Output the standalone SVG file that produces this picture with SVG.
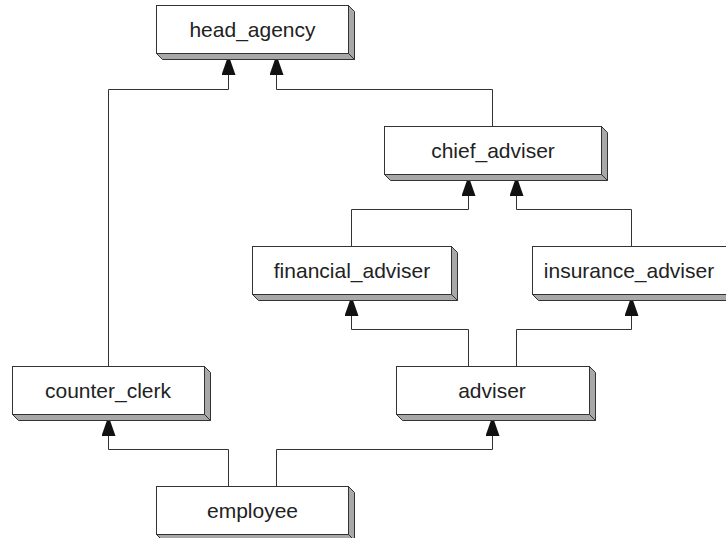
<svg xmlns="http://www.w3.org/2000/svg" width="726" height="538" viewBox="0 0 726 538">
<style>
.front{fill:#ffffff;stroke:#333333;stroke-width:1}
.side{fill:#a8a8a8;stroke:#333333;stroke-width:1;stroke-linejoin:miter}
.lbl{font-family:"Liberation Sans",Arial,sans-serif;font-size:21px;fill:#222222;text-anchor:middle;dominant-baseline:central}
.conn{fill:none;stroke:#333333;stroke-width:1}
</style>
<defs>
<marker id="arr" viewBox="0 0 20 14" refX="20" refY="7" markerWidth="20" markerHeight="14" markerUnits="userSpaceOnUse" orient="auto">
<path d="M0,0 L20,7 L0,14 z" fill="#111111"/>
</marker>
</defs>
<rect width="726" height="538" fill="#ffffff"/>

<g id="connectors">
<path class="conn" d="M108.5,366.5 V89.5 H228.5 V55" marker-end="url(#arr)"/>
<path class="conn" d="M492.5,126.5 V89.5 H276.5 V55" marker-end="url(#arr)"/>
<path class="conn" d="M351.5,246.5 V209.5 H468.5 V176" marker-end="url(#arr)"/>
<path class="conn" d="M631.5,246.5 V209.5 H516.5 V176" marker-end="url(#arr)"/>
<path class="conn" d="M468.5,366.5 V329.5 H351.5 V296" marker-end="url(#arr)"/>
<path class="conn" d="M516.5,366.5 V329.5 H631.5 V296" marker-end="url(#arr)"/>
<path class="conn" d="M228.5,486.5 V449.5 H108.5 V416" marker-end="url(#arr)"/>
<path class="conn" d="M276.5,486.5 V449.5 H492.5 V416" marker-end="url(#arr)"/>
</g>

<g id="head_agency">
<polygon class="side" points="348.5,5.5 354.5,11.5 354.5,59.5 348.5,53.5"/>
<polygon class="side" points="156.5,53.5 348.5,53.5 354.5,59.5 162.5,59.5"/>
<rect class="front" x="156.5" y="5.5" width="192" height="48"/>
<text class="lbl" x="252.5" y="29.5">head_agency</text>
</g>

<g id="chief_adviser">
<polygon class="side" points="601.5,126.5 607.5,132.5 607.5,180.5 601.5,174.5"/>
<polygon class="side" points="384.5,174.5 601.5,174.5 607.5,180.5 390.5,180.5"/>
<rect class="front" x="384.5" y="126.5" width="217" height="48"/>
<text class="lbl" x="493" y="150.5">chief_adviser</text>
</g>

<g id="financial_adviser">
<polygon class="side" points="451.5,246.5 457.5,252.5 457.5,300.5 451.5,294.5"/>
<polygon class="side" points="252.5,294.5 451.5,294.5 457.5,300.5 258.5,300.5"/>
<rect class="front" x="252.5" y="246.5" width="199" height="48"/>
<text class="lbl" x="352" y="270.5">financial_adviser</text>
</g>

<g id="insurance_adviser">
<polygon class="side" points="728.5,246.5 734.5,252.5 734.5,300.5 728.5,294.5"/>
<polygon class="side" points="532.5,294.5 728.5,294.5 734.5,300.5 538.5,300.5"/>
<rect class="front" x="532.5" y="246.5" width="196" height="48"/>
<text class="lbl" x="629" y="270.5">insurance_adviser</text>
</g>

<g id="counter_clerk">
<polygon class="side" points="204.5,366.5 210.5,372.5 210.5,420.5 204.5,414.5"/>
<polygon class="side" points="12.5,414.5 204.5,414.5 210.5,420.5 18.5,420.5"/>
<rect class="front" x="12.5" y="366.5" width="192" height="48"/>
<text class="lbl" x="108" y="390.5">counter_clerk</text>
</g>

<g id="adviser">
<polygon class="side" points="589.5,366.5 595.5,372.5 595.5,420.5 589.5,414.5"/>
<polygon class="side" points="396.5,414.5 589.5,414.5 595.5,420.5 402.5,420.5"/>
<rect class="front" x="396.5" y="366.5" width="193" height="48"/>
<text class="lbl" x="492" y="390.5">adviser</text>
</g>

<g id="employee">
<polygon class="side" points="348.5,486.5 354.5,492.5 354.5,540.5 348.5,534.5"/>
<polygon class="side" points="156.5,534.5 348.5,534.5 354.5,540.5 162.5,540.5"/>
<rect class="front" x="156.5" y="486.5" width="192" height="48"/>
<text class="lbl" x="252.5" y="510.5">employee</text>
</g>
</svg>
